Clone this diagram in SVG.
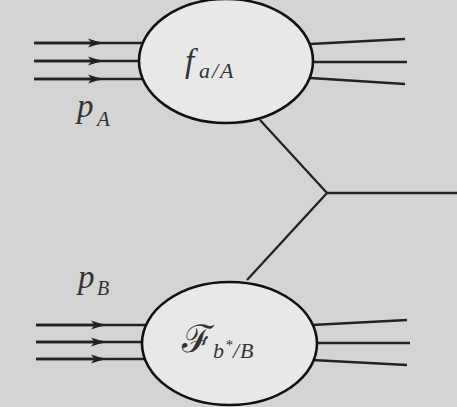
<svg xmlns="http://www.w3.org/2000/svg" width="457" height="407" viewBox="0 0 457 407">
  <style>
    .line { stroke: #222; stroke-width: 2.3; fill: none; }
    .blob { fill: #e8e8e8; stroke: #111; stroke-width: 2.6; }
    .math { font-family: "Liberation Serif", "DejaVu Serif", serif; font-style: italic; fill: #333; }
    .big { font-size: 33px; }
    .sub { font-size: 22px; }
  </style>
  <defs>
    <marker id="arrow" viewBox="0 0 14 10" refX="12" refY="5" markerWidth="14" markerHeight="10" markerUnits="userSpaceOnUse" orient="auto">
      <path d="M0,0.5 L14,5 L0,9.5 L3.5,5 Z" fill="#222"/>
    </marker>
  </defs>
  <rect width="457" height="407" fill="#d4d4d4"/>

  <g id="connectors">
    <!-- incoming partons for hadron A -->
    <line class="line" x1="34" y1="43" x2="142" y2="43"/>
    <line class="line" x1="34" y1="61" x2="142" y2="61"/>
    <line class="line" x1="34" y1="79" x2="142" y2="79"/>
    <line class="line" x1="34" y1="43" x2="100" y2="43" marker-end="url(#arrow)"/>
    <line class="line" x1="34" y1="61" x2="100" y2="61" marker-end="url(#arrow)"/>
    <line class="line" x1="34" y1="79" x2="100" y2="79" marker-end="url(#arrow)"/>
    <!-- incoming partons for hadron B -->
    <line class="line" x1="36" y1="325" x2="146" y2="325"/>
    <line class="line" x1="36" y1="342" x2="146" y2="342"/>
    <line class="line" x1="36" y1="359" x2="146" y2="359"/>
    <line class="line" x1="36" y1="325" x2="103" y2="325" marker-end="url(#arrow)"/>
    <line class="line" x1="36" y1="342" x2="103" y2="342" marker-end="url(#arrow)"/>
    <line class="line" x1="36" y1="359" x2="103" y2="359" marker-end="url(#arrow)"/>
    <!-- remnants of A -->
    <line class="line" x1="310" y1="44" x2="405" y2="39"/>
    <line class="line" x1="310" y1="62" x2="407" y2="62"/>
    <line class="line" x1="310" y1="78" x2="405" y2="84"/>
    <!-- remnants of B -->
    <line class="line" x1="312" y1="325" x2="407" y2="320"/>
    <line class="line" x1="312" y1="343" x2="410" y2="343"/>
    <line class="line" x1="312" y1="360" x2="407" y2="365"/>
    <!-- hard scattering vertex -->
    <polyline class="line" points="260,120 327,193 247,280"/>
    <line class="line" x1="327" y1="193" x2="457" y2="193"/>
  </g>

  <g id="hadronA">
    <ellipse class="blob" cx="226" cy="61" rx="87" ry="62"/>
    <text class="math"><tspan class="big" x="185" y="72">f</tspan><tspan class="sub" x="199" y="78">a</tspan><tspan class="sub" x="212" y="78">/</tspan><tspan class="sub" x="220" y="78">A</tspan></text>
  </g>

  <g id="hadronB">
    <ellipse class="blob" cx="229.5" cy="343.5" rx="87.5" ry="61.5"/>
    <text class="math"><tspan font-size="38" font-style="normal" x="182" y="352">ℱ</tspan><tspan class="sub" x="213" y="358">b</tspan><tspan font-size="15" x="225" y="350">*</tspan><tspan class="sub" x="233" y="358">/</tspan><tspan class="sub" x="240" y="358">B</tspan></text>
  </g>

  <g id="labelA">
    <text class="math"><tspan class="big" x="77" y="117">p</tspan><tspan font-size="21" x="97" y="126">A</tspan></text>
  </g>
  <g id="labelB">
    <text class="math"><tspan class="big" x="78" y="288">p</tspan><tspan font-size="20" x="97" y="295">B</tspan></text>
  </g>
</svg>
